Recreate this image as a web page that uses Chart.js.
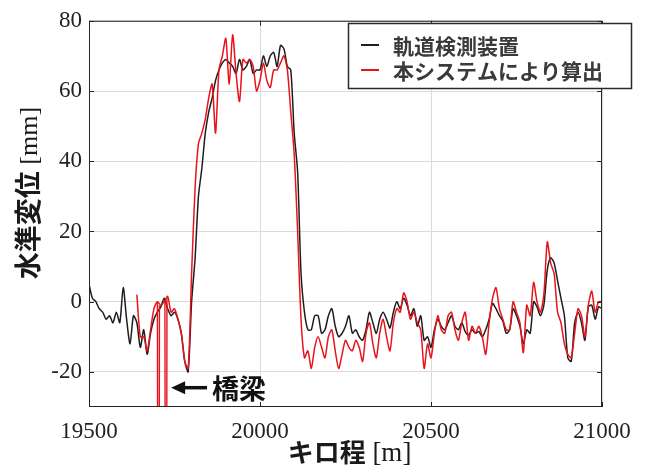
<html>
<head>
<meta charset="utf-8">
<style>
body { margin: 0; background: #fff; }
</style>
</head>
<body>
<script src="https://cdn.jsdelivr.net/npm/chart.js@4/dist/chart.umd.min.js"></script>
<canvas id="myChart" width="646" height="476"></canvas>
<script>
// kilometre posts, every 10 m
const kmStep = 10;
const blackStart = 19500;
const redStart = 19640;

// 軌道検測装置 (19500 .. 21000)
const blackLevel = [
  5, 1, 0, -2, -3, -5, -4, -6, -3, -6,
  4, -5, -12, -4, -6, -13, -8, -15, -9, -5,
  -3, -1.5, 1, -2, -4, -3, -5, -9, -17, -20,
  0, 12, 30, 38, 48, 54, 58, 63, 66, 68,
  69, 68, 67, 65, 69, 66, 67, 69, 65, 66,
  66, 70, 67, 70, 71, 67, 73, 72, 67, 66,
  48, 37, 8, -3, -8, -8, -4, -4, -9, -8,
  -4, -2, -7, -10, -9, -7, -4, -9, -8, -10,
  -11, -8, -3, -6, -9, -5, -3, -5, -7.5, -3,
  0, -2, 1, -1, -4, -2, -7, -4, -11, -10,
  -13, -8, -5, -7, -8, -6, -4, -7, -8, -6,
  -8.5, -9.5, -8, -9, -8.5, -10, -8, -5, -0.5, -2,
  -4, -5.5, -9, -8, -2, -4, -7, -12, -8, -9,
  0, -1.5, -4, -1, 9, 12.5, 11, 6, 1, -4,
  -16, -17, -6, -3, -6, -11, -1.5, -1, -5, -1.5,
  -2
];

// 本システムにより算出 (19640 .. 21000)
const redLevel = [
  2, -10, -10, -14, -8, -2,
  0, -1, 0, 1.5, -3, -2, -5, -9, -17, -19,
  8, 32, 45, 48, 52, 58, 62, 48, 66, 70,
  75, 62, 76, 65, 57, 69, 68, 69, 67, 60,
  63, 68, 63, 61, 66, 66, 68, 70, 66, 54,
  42, 20, -5, -16, -14, -19, -13, -10, -13, -16,
  -10, -8, -14, -19, -15, -11, -13, -14, -11, -13,
  -17, -9, -6, -12, -16, -9, -5, -10, -14, -6,
  -2, -3, 2.5, 0, -5, -3, -6, -8, -19, -12,
  -16, -9, -4, -8, -9, -4, -3, -8, -11, -6,
  -3, -11, -7, -9, -7, -10, -15, -6, 1, 4,
  -2, -5, -8, -8, 0, -3, -6, -14.5, -1, -4,
  5.5, 0, -3, 2, 17, 11, 8, -3, -6, -12,
  -15, -16, -9, -2, -4, -10, -1, 3, -3, 0,
  0
];

// spikes of the computed series on the bridge
const bridgeKm = [19700, 19703, 19706, 19714, 19722, 19725, 19728];
const bridgeLevel = [0, -200, -1, null, 0.5, -200, 1];

const xTicks = [19500, 20000, 20500, 21000];
const yTicks = [-20, 0, 20, 40, 60, 80];

const seriesNames = ['軌道検測装置', '本システムにより算出'];
const seriesColors = ['#1e1e1e', '#e8131b'];

const blackData = blackLevel.map((v, i) => ({x: blackStart + i * kmStep, y: v}));
const redData = redLevel.map((v, i) => ({x: redStart + i * kmStep, y: v}));
const bridgeData = bridgeKm.map((k, i) => ({x: k, y: bridgeLevel[i]}));

const cjk = '"Noto Sans CJK JP", sans-serif';
const serif = '"Liberation Serif", "Times New Roman", serif';

Chart.defaults.font.family = serif;

const decor = {
  id: 'decor',
  afterDraw(chart) {
    const ctx = chart.ctx;
    const a = chart.chartArea;
    const xs = chart.scales.x, ys = chart.scales.y;
    ctx.save();

    // axes box with inward ticks
    ctx.strokeStyle = '#262626';
    ctx.lineWidth = 1;
    ctx.strokeRect(a.left + 0.5, a.top + 0.5, a.right - a.left - 1, a.bottom - a.top - 1);
    ctx.beginPath();
    xTicks.forEach(t => {
      const px = Math.round(xs.getPixelForValue(t)) + 0.5;
      ctx.moveTo(px, a.bottom); ctx.lineTo(px, a.bottom - 5);
      ctx.moveTo(px, a.top); ctx.lineTo(px, a.top + 5);
    });
    yTicks.forEach(t => {
      const py = Math.round(ys.getPixelForValue(t)) + 0.5;
      ctx.moveTo(a.left, py); ctx.lineTo(a.left + 5, py);
      ctx.moveTo(a.right, py); ctx.lineTo(a.right - 5, py);
    });
    ctx.stroke();

    // y axis title
    ctx.fillStyle = '#1a1a1a';
    ctx.textBaseline = 'middle';
    ctx.save();
    ctx.translate(28, 193);
    ctx.rotate(-Math.PI / 2);
    ctx.font = 'bold 27px ' + cjk;
    let w1 = ctx.measureText('水準変位').width;
    ctx.font = '26px ' + serif;
    let w2 = ctx.measureText(' [mm]').width;
    let sx = -(w1 + w2) / 2;
    ctx.font = 'bold 27px ' + cjk;
    ctx.textAlign = 'left';
    ctx.fillText('水準変位', sx, 0);
    ctx.font = '26px ' + serif;
    ctx.fillText(' [mm]', sx + w1, 2);
    ctx.restore();

    // x axis title
    ctx.font = 'bold 26px ' + cjk;
    w1 = ctx.measureText('キロ程').width;
    ctx.font = '27px ' + serif;
    w2 = ctx.measureText(' [m]').width;
    sx = (a.left + a.right) / 2 + 4 - (w1 + w2) / 2;
    ctx.textAlign = 'left';
    ctx.font = 'bold 26px ' + cjk;
    ctx.fillText('キロ程', sx, 452);
    ctx.font = '27px ' + serif;
    ctx.fillText(' [m]', sx + w1, 454);

    // bridge annotation
    const tipX = xs.getPixelForValue(19743);
    const tailX = xs.getPixelForValue(19845);
    const ay = ys.getPixelForValue(-24.5);
    ctx.strokeStyle = '#111';
    ctx.lineWidth = 3.5;
    ctx.beginPath();
    ctx.moveTo(tailX, ay);
    ctx.lineTo(tipX + 8, ay);
    ctx.stroke();
    ctx.fillStyle = '#111';
    ctx.beginPath();
    ctx.moveTo(tipX - 1, ay);
    ctx.lineTo(tipX + 13, ay - 6.5);
    ctx.lineTo(tipX + 13, ay + 6.5);
    ctx.closePath();
    ctx.fill();
    ctx.font = 'bold 27px ' + cjk;
    ctx.fillText('橋梁', xs.getPixelForValue(19860), ay + 1);

    // legend box
    const lx = 348, ly = 23, lw = 283, lh = 65;
    ctx.fillStyle = '#fff';
    ctx.fillRect(lx, ly, lw, lh);
    ctx.strokeStyle = '#2a2a2a';
    ctx.lineWidth = 1.5;
    ctx.strokeRect(lx + 0.5, ly + 0.5, lw, lh);
    ctx.font = 'bold 21px ' + cjk;
    seriesNames.forEach((name, i) => {
      const y = ly + 22 + i * 25;
      ctx.strokeStyle = seriesColors[i];
      ctx.lineWidth = 2;
      ctx.beginPath();
      ctx.moveTo(lx + 13, y);
      ctx.lineTo(lx + 31, y);
      ctx.stroke();
      ctx.fillStyle = '#3a3a3a';
      ctx.fillText(name, lx + 45, y + 1);
    });
    ctx.restore();
  }
};

const tickFont = { family: serif, size: 23, weight: 'normal' };

let ctx = document.getElementById('myChart').getContext('2d');
let myChart = new Chart(ctx, {
  type: 'line',
  data: {
    datasets: [{
      label: seriesNames[0],
      data: blackData,
      borderColor: seriesColors[0],
      borderWidth: 1.5,
      pointRadius: 0,
      tension: 0.25,
      order: 2
    },
    {
      label: seriesNames[1],
      data: redData,
      borderColor: seriesColors[1],
      borderWidth: 1.5,
      pointRadius: 0,
      tension: 0.25,
      order: 1
    },
    {
      label: 'bridge',
      data: bridgeData,
      borderColor: seriesColors[1],
      borderWidth: 1.4,
      pointRadius: 0,
      spanGaps: false,
      order: 1
    }]
  },
  options: {
    responsive: false,
    animation: false,
    devicePixelRatio: 1,
    layout: { padding: { top: 18, right: 44, left: 0, bottom: 0 } },
    plugins: { legend: { display: false }, tooltip: { enabled: false } },
    scales: {
      x: {
        type: 'linear',
        min: 19500,
        max: 21000,
        afterBuildTicks: s => { s.ticks = xTicks.map(v => ({value: v})); },
        afterFit: s => { s.height = 69; },
        grid: { color: '#dadada', drawTicks: false },
        border: { display: false },
        ticks: {
          padding: 11,
          color: '#222',
          font: tickFont,
          callback: v => String(v)
        }
      },
      y: {
        type: 'linear',
        min: -30,
        max: 80,
        afterBuildTicks: s => { s.ticks = yTicks.map(v => ({value: v})); },
        afterFit: s => { s.width = 89; },
        grid: { color: '#dadada', drawTicks: false },
        border: { display: false },
        ticks: {
          padding: 7,
          color: '#222',
          font: tickFont,
          callback: v => String(v)
        }
      }
    }
  },
  plugins: [decor]
});
</script>
</body>
</html>
